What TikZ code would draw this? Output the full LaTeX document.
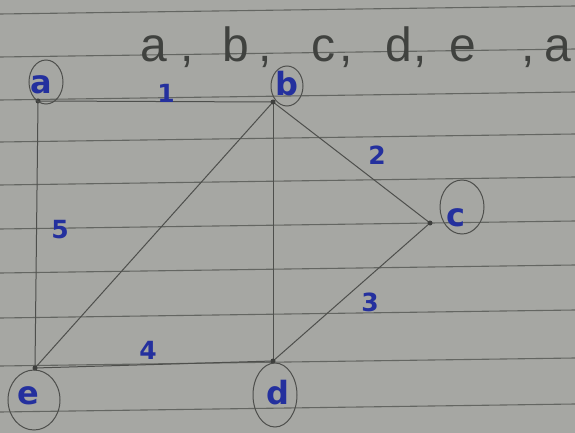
\documentclass[tikz,border=0pt]{standalone}
\usepackage{fontspec}
\setmainfont{DejaVu Sans}
\newfontfamily\titlefont{Liberation Sans}
\usetikzlibrary{shapes.geometric}
\definecolor{paper}{RGB}{166,167,163}
\definecolor{rule}{RGB}{100,102,98}
\definecolor{pencil}{RGB}{78,79,76}
\definecolor{titleink}{RGB}{64,66,63}
\definecolor{ink}{RGB}{36,48,158}
\tikzset{
  ruleline/.style={draw=rule, line width=1.1pt},
  edge/.style={draw=pencil, line width=1pt},
  ring/.style={draw=pencil, line width=1pt, ellipse, inner sep=0pt},
  vlabel/.style={text=ink, font=\fontsize{32}{32}\selectfont\bfseries, inner sep=0pt},
  wlabel/.style={text=ink, font=\fontsize{25}{25}\selectfont\bfseries, inner sep=0pt},
  vdot/.style={circle, fill=pencil!80!black, inner sep=0pt, minimum size=5pt}
}
\begin{document}
\begin{tikzpicture}[x=1pt,y=-1pt]
\fill[paper] (0,0) rectangle (575,433);
\useasboundingbox (0,0) rectangle (575,433);
% ruled lines
\foreach \yy in {14,57,100,142,185,229,273,318,366,412}
  \draw[ruleline] (0,\yy) -- (575,\yy-8);
% title
\node[anchor=base west, inner sep=0pt, text=titleink, font=\titlefont\fontsize{48}{48}\selectfont] (title) at (140,62)
 {\makebox[82pt][l]{a\hspace{14pt},}\makebox[89pt][l]{b\hspace{10pt},}\makebox[74pt][l]{c\hspace{4pt},}\makebox[64pt][l]{d\hspace{2pt},}\makebox[95pt][l]{e\hspace{46pt},\hspace{9pt}a}};
% vertices
\coordinate (a) at (38,101);
\coordinate (b) at (273,102);
\coordinate (c) at (430,223);
\coordinate (d) at (273,361);
\coordinate (e) at (35,368);
% edges
\draw[edge] (a) -- (b);
\draw[edge] (b) -- (c);
\draw[edge] (c) -- (d);
\draw[edge] (d) -- (e);
\draw[edge] (e) -- (a);
\draw[edge] (b) -- (e);
\draw[edge] (b) -- (d);
% dots
\foreach \v in {a,b,c,d,e} \node[vdot] at (\v) {};
% rings
\node[ring, minimum width=34pt, minimum height=44pt] (ra) at (46,82) {};
\node[ring, minimum width=32pt, minimum height=40pt] (rb) at (287,86) {};
\node[ring, minimum width=44pt, minimum height=54pt] (rc) at (462,207) {};
\node[ring, minimum width=44pt, minimum height=64pt] (rd) at (275,395) {};
\node[ring, minimum width=52pt, minimum height=60pt] (re) at (34,400) {};
% vertex labels
\node[vlabel] (la) at (41,85) {a};
\node[vlabel] (lb) at (287,84) {b};
\node[vlabel] (lc) at (456,218) {c};
\node[vlabel] (ld) at (278,393) {d};
\node[vlabel] (le) at (28,396) {e};
% weights
\node[wlabel] (w1) at (166,93) {1};
\node[wlabel] (w2) at (377,155) {2};
\node[wlabel] (w3) at (370,302) {3};
\node[wlabel] (w4) at (148,350) {4};
\node[wlabel] (w5) at (60,230) {5};
\end{tikzpicture}
\end{document}
